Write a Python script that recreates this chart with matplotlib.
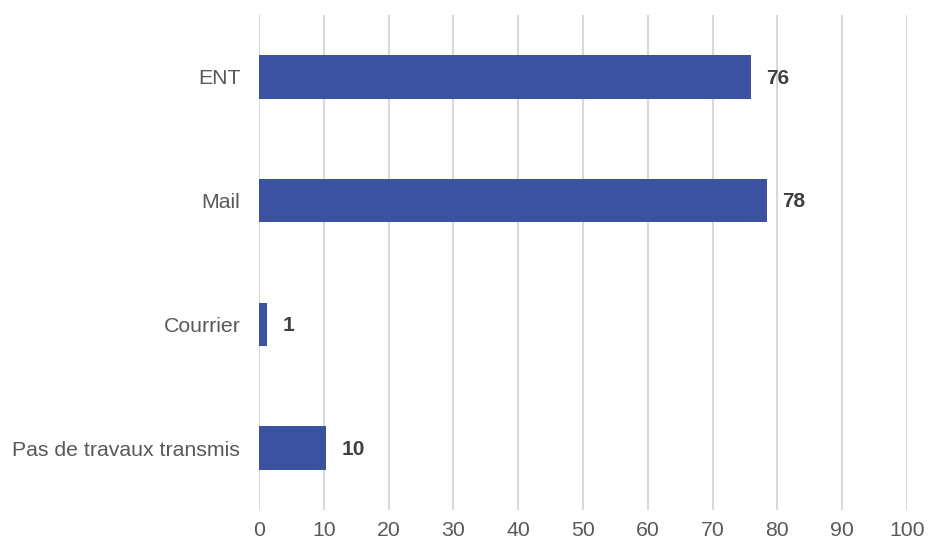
import matplotlib.pyplot as plt

# Data
categories = ["ENT", "Mail", "Courrier", "Pas de travaux transmis"]
values = [75.9, 78.4, 1.2, 10.3]
labels = ["76", "78", "1", "10"]
xticks = [0, 10, 20, 30, 40, 50, 60, 70, 80, 90, 100]

plt.rcParams["font.family"] = ["Liberation Sans", "DejaVu Sans"]

fig = plt.figure(figsize=(9.3, 5.45), dpi=100)
ax = fig.add_axes([0.2785, 0.0642, 0.6968, 0.9083])

pos = list(range(len(categories)))
ax.barh(pos, values, height=0.35, color="#3A52A0", zorder=3)

for p, v, lab in zip(pos, values, labels):
    ax.text(v + 2.4, p + 0.01, lab, va="center", ha="left", fontsize=15,
            fontweight="bold", color="#404040")

ax.set_xlim(0, 100)
ax.set_ylim(3.5, -0.5)
ax.set_xticks(xticks)
ax.set_yticks(pos)
ax.set_yticklabels(categories)
ax.grid(axis="x", color="#d9d9d9", linewidth=1.5, zorder=0)
for s in ax.spines.values():
    s.set_visible(False)
ax.tick_params(axis="both", length=0, labelsize=15.3, colors="#595959")
ax.tick_params(axis="x", pad=8)
ax.tick_params(axis="y", pad=13.5)

fig.savefig("out.png", dpi=100)
